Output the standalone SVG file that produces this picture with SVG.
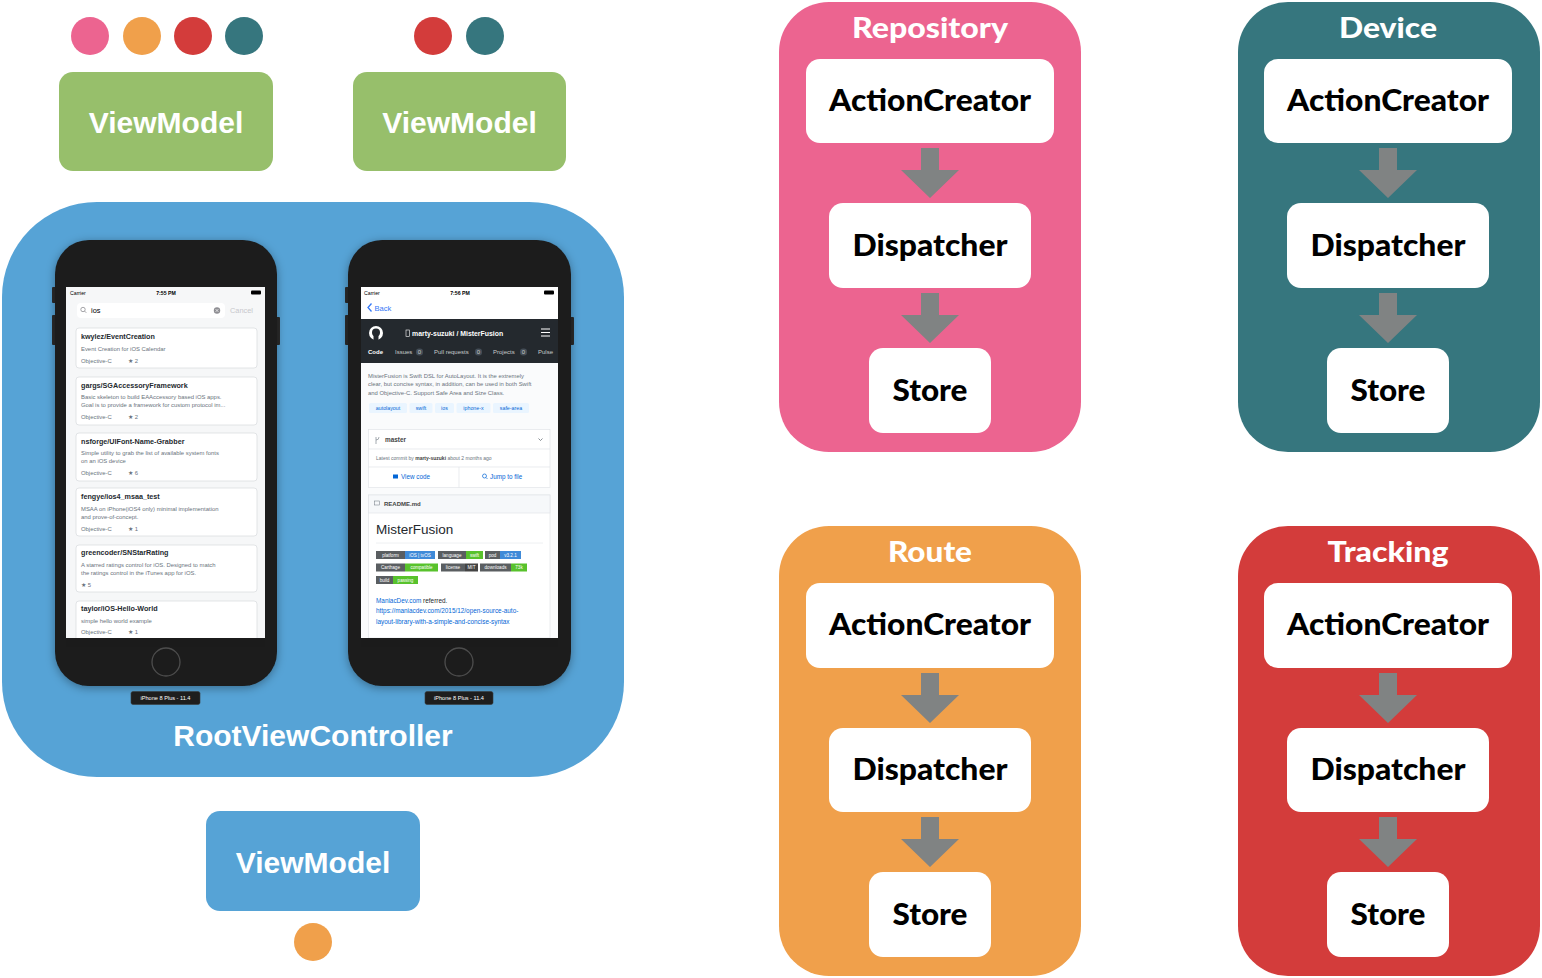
<svg xmlns="http://www.w3.org/2000/svg" width="1542" height="978" viewBox="0 0 1542 978">
<style>
.vm{font-family:"Liberation Sans",Arial,sans-serif;font-weight:bold;font-size:30px;fill:#fff;text-anchor:middle}
.ttl{font-family:Lato,"Open Sans",sans-serif;font-weight:900;font-size:29px;fill:#fff;text-anchor:middle}
.lbl{font-family:Lato,"Open Sans",sans-serif;font-weight:900;font-size:30px;fill:#000;text-anchor:middle}
.wb{fill:#fff}
.arr{fill:#808383}
.ph{fill:#1b1b1b}
.btn{fill:#2a2a2a}
.s{font-family:"Liberation Sans",Arial,sans-serif}
.ct{font-family:"Liberation Sans",Arial,sans-serif;font-size:7.2px;font-weight:bold;fill:#24292e}
.cd{font-family:"Liberation Sans",Arial,sans-serif;font-size:5.9px;fill:#6a737d}
.card{fill:#fff;stroke:#d7dadd;stroke-width:0.7}
.st{font-family:"Liberation Sans",Arial,sans-serif;font-size:5.2px;fill:#000}
.tab{font-family:"Liberation Sans",Arial,sans-serif;font-size:6px;fill:#c8c9ca}
.bd{fill:#5a5e61}
.bt{font-family:"Liberation Sans",Arial,sans-serif;font-size:4.6px;fill:#fff;text-anchor:middle}
.lk{font-family:"Liberation Sans",Arial,sans-serif;font-size:6.4px;fill:#0366d6}
.tg{fill:#eaf5ff}
.tgt{font-family:"Liberation Sans",Arial,sans-serif;font-size:5.3px;fill:#0366d6;text-anchor:middle}
.plbl{font-family:"Liberation Sans",Arial,sans-serif;font-size:5.6px;fill:#fff;text-anchor:middle}
</style>
<defs>
<path id="arrow" d="M-9,0 H9 V22 H29 L0,50 L-29,22 H-9 Z"/>
<filter id="sh" x="-20%" y="-20%" width="140%" height="140%">
<feDropShadow dx="0" dy="2" stdDeviation="5" flood-color="#000" flood-opacity="0.35"/>
</filter>
</defs>
<rect width="1542" height="978" fill="#fff"/>

<g id="dots-top-left">
<circle cx="90" cy="36" r="19" fill="#ec6490"/>
<circle cx="142" cy="36" r="19" fill="#f0a04b"/>
<circle cx="193" cy="36" r="19" fill="#d33c3b"/>
<circle cx="244" cy="36" r="19" fill="#36767e"/>
</g>
<g id="dots-top-right">
<circle cx="433" cy="36" r="19" fill="#d33c3b"/>
<circle cx="485" cy="36" r="19" fill="#36767e"/>
</g>

<g id="viewmodel-1">
<rect x="59" y="72" width="214" height="99" rx="14" fill="#97bf6b"/>
<text class="vm" x="166" y="133">ViewModel</text>
</g>
<g id="viewmodel-2">
<rect x="353" y="72" width="213" height="99" rx="14" fill="#97bf6b"/>
<text class="vm" x="459.5" y="133">ViewModel</text>
</g>

<g id="root-view-controller">
<rect x="2" y="202" width="622" height="575" rx="95" fill="#56a3d6"/>
<text class="vm" x="313" y="746">RootViewController</text>

<g id="phone-1">
<rect x="52" y="287" width="4" height="16" rx="1" class="btn"/>
<rect x="52" y="315" width="4" height="30" rx="1" class="btn"/>
<rect x="276" y="317" width="4" height="28" rx="1" class="btn"/>
<rect x="55" y="240" width="222" height="446" rx="34" class="ph" filter="url(#sh)"/>
<rect x="66" y="287" width="199" height="351" fill="#f6f7f8"/>
<text class="st" x="70" y="294.5">Carrier</text>
<text class="st" x="166" y="294.5" text-anchor="middle" font-weight="bold">7:55 PM</text>
<rect x="251" y="290.5" width="10" height="4" rx="1" fill="#000"/>
<rect x="77" y="303" width="148" height="15" rx="4" fill="#fff"/>
<circle cx="83" cy="309.5" r="2.2" fill="none" stroke="#8e8e93" stroke-width="0.8"/>
<line x1="84.6" y1="311.1" x2="86.3" y2="312.8" stroke="#8e8e93" stroke-width="0.8"/>
<text class="s" x="91" y="313" font-size="7.4" fill="#000">ios</text>
<circle cx="217" cy="310.5" r="3.2" fill="#8e8e93"/>
<path d="M215.6,309.1 L218.4,311.9 M218.4,309.1 L215.6,311.9" stroke="#fff" stroke-width="0.7"/>
<text class="s" x="230" y="313" font-size="7.4" fill="#c7c7cc">Cancel</text>

<rect class="card" x="76" y="328" width="181" height="40" rx="3"/>
<text class="ct" x="81" y="339">kwylez/EventCreation</text>
<text class="cd" x="81" y="351">Event Creation for iOS Calendar</text>
<text class="cd" x="81" y="362.5">Objective-C</text><text class="cd" x="128" y="362.5">★ 2</text>

<rect class="card" x="76" y="377" width="181" height="48" rx="3"/>
<text class="ct" x="81" y="387.5">gargs/SGAccessoryFramework</text>
<text class="cd" x="81" y="399">Basic skeleton to build EAAccessory based iOS apps.</text>
<text class="cd" x="81" y="407">Goal is to provide a framework for custom protocol im...</text>
<text class="cd" x="81" y="419">Objective-C</text><text class="cd" x="128" y="419">★ 2</text>

<rect class="card" x="76" y="433" width="181" height="48" rx="3"/>
<text class="ct" x="81" y="443.5">nsforge/UIFont-Name-Grabber</text>
<text class="cd" x="81" y="455">Simple utility to grab the list of available system fonts</text>
<text class="cd" x="81" y="463">on an iOS device</text>
<text class="cd" x="81" y="475">Objective-C</text><text class="cd" x="128" y="475">★ 6</text>

<rect class="card" x="76" y="488" width="181" height="48" rx="3"/>
<text class="ct" x="81" y="499">fengye/ios4_msaa_test</text>
<text class="cd" x="81" y="510.5">MSAA on iPhone(iOS4 only) minimal implementation</text>
<text class="cd" x="81" y="518.5">and prove-of-concept.</text>
<text class="cd" x="81" y="530.5">Objective-C</text><text class="cd" x="128" y="530.5">★ 1</text>

<rect class="card" x="76" y="545" width="181" height="47" rx="3"/>
<text class="ct" x="81" y="555">greencoder/SNStarRating</text>
<text class="cd" x="81" y="566.5">A starred ratings control for iOS. Designed to match</text>
<text class="cd" x="81" y="574.5">the ratings control in the iTunes app for iOS.</text>
<text class="cd" x="81" y="586.5">★ 5</text>

<rect class="card" x="76" y="601" width="181" height="45" rx="3"/>
<text class="ct" x="81" y="611">taylor/iOS-Hello-World</text>
<text class="cd" x="81" y="622.5">simple hello world example</text>
<text class="cd" x="81" y="634">Objective-C</text><text class="cd" x="128" y="634">★ 1</text>
<rect x="66" y="638" width="199" height="9" class="ph"/>

<circle cx="166" cy="662" r="14" fill="none" stroke="#4d4d4d" stroke-width="1.3"/>
<rect x="131" y="691.5" width="69" height="13" rx="2" fill="#1e1e1e" stroke="#3a3a3a" stroke-width="0.6"/>
<text class="plbl" x="165.5" y="700">iPhone 8 Plus - 11.4</text>
</g>

<g id="phone-2">
<rect x="345" y="287" width="4" height="16" rx="1" class="btn"/>
<rect x="345" y="315" width="4" height="30" rx="1" class="btn"/>
<rect x="570" y="317" width="4" height="28" rx="1" class="btn"/>
<rect x="348" y="240" width="223" height="446" rx="34" class="ph" filter="url(#sh)"/>
<rect x="361" y="287" width="197" height="351" fill="#fafbfc"/>
<rect x="361" y="287" width="197" height="32" fill="#fff"/>
<text class="st" x="364" y="294.5">Carrier</text>
<text class="st" x="460" y="294.5" text-anchor="middle" font-weight="bold">7:56 PM</text>
<rect x="544" y="290.5" width="10" height="4" rx="1" fill="#000"/>
<path d="M371.5,303.5 L368,307.5 L371.5,311.5" fill="none" stroke="#3478f6" stroke-width="1.3"/>
<text class="s" x="374.5" y="310.5" font-size="7.6" fill="#3478f6">Back</text>
<rect x="361" y="319" width="197" height="44" fill="#24292e"/>
<circle cx="376" cy="333" r="7" fill="#fff"/>
<circle cx="376" cy="332.5" r="4" fill="#24292e"/>
<rect x="373.5" y="335" width="5" height="5" fill="#24292e"/>
<rect x="406" y="330" width="3.5" height="6.5" fill="none" stroke="#fff" stroke-width="0.6"/>
<text class="s" x="412" y="336" font-size="6.9" font-weight="bold" fill="#fff">marty-suzuki / MisterFusion</text>
<path d="M541,329 H550 M541,332.5 H550 M541,336 H550" stroke="#fff" stroke-width="1"/>
<text class="tab" x="368" y="354" font-weight="bold" style="fill:#fff">Code</text>
<text class="tab" x="395" y="354">Issues</text>
<rect x="416" y="348.5" width="7" height="7" rx="3" fill="#444d56"/>
<text class="tab" x="419.5" y="354" text-anchor="middle" font-size="4.8">0</text>
<text class="tab" x="434" y="354">Pull requests</text>
<rect x="475" y="348.5" width="7" height="7" rx="3" fill="#444d56"/>
<text class="tab" x="478.5" y="354" text-anchor="middle" font-size="4.8">0</text>
<text class="tab" x="493" y="354">Projects</text>
<rect x="520" y="348.5" width="7" height="7" rx="3" fill="#444d56"/>
<text class="tab" x="523.5" y="354" text-anchor="middle" font-size="4.8">0</text>
<text class="tab" x="538" y="354">Pulse</text>

<text class="cd" x="368" y="377.5" font-size="5.4">MisterFusion is Swift DSL for AutoLayout. It is the extremely</text>
<text class="cd" x="368" y="386" font-size="5.4">clear, but concise syntax, in addition, can be used in both Swift</text>
<text class="cd" x="368" y="394.5" font-size="5.4">and Objective-C. Support Safe Area and Size Class.</text>
<rect class="tg" x="369" y="403" width="38" height="10" rx="1.5"/>
<text class="tgt" x="388" y="409.8">autolayout</text>
<rect class="tg" x="409.5" y="403" width="23" height="10" rx="1.5"/>
<text class="tgt" x="421" y="409.8">swift</text>
<rect class="tg" x="435" y="403" width="19" height="10" rx="1.5"/>
<text class="tgt" x="444.5" y="409.8">ios</text>
<rect class="tg" x="456.5" y="403" width="34" height="10" rx="1.5"/>
<text class="tgt" x="473.5" y="409.8">iphone-x</text>
<rect class="tg" x="493" y="403" width="36" height="10" rx="1.5"/>
<text class="tgt" x="511" y="409.8">safe-area</text>

<rect x="368.5" y="429.5" width="181.5" height="58" fill="#fff" stroke="#e1e4e8" stroke-width="0.7"/>
<line x1="368.5" y1="449" x2="550" y2="449" stroke="#e1e4e8" stroke-width="0.7"/>
<line x1="368.5" y1="467" x2="550" y2="467" stroke="#e1e4e8" stroke-width="0.7"/>
<line x1="459" y1="467" x2="459" y2="487.5" stroke="#e1e4e8" stroke-width="0.7"/>
<path d="M376,437 V444 M376,440 Q379,440 379,437" fill="none" stroke="#6a737d" stroke-width="0.6"/>
<text class="s" x="385" y="442" font-size="6.4" font-weight="bold" fill="#444">master</text>
<path d="M538.5,438.5 L540.5,440.5 L542.5,438.5" fill="none" stroke="#586069" stroke-width="0.7"/>
<text class="s" x="376" y="460" font-size="5" fill="#6a737d">Latest commit by <tspan font-weight="bold" fill="#444">marty-suzuki</tspan> about 2 months ago</text>
<rect x="393" y="474.5" width="5" height="4" fill="#0366d6"/>
<text class="s" x="401" y="479" font-size="6.3" fill="#0366d6">View code</text>
<circle cx="484.5" cy="476" r="2" fill="none" stroke="#0366d6" stroke-width="0.7"/>
<line x1="486" y1="477.5" x2="487.5" y2="479" stroke="#0366d6" stroke-width="0.7"/>
<text class="s" x="490" y="479" font-size="6.3" fill="#0366d6">Jump to file</text>

<rect x="368.5" y="495" width="181.5" height="143" fill="#fff" stroke="#e1e4e8" stroke-width="0.7"/>
<rect x="368.5" y="495" width="181.5" height="18" fill="#f6f8fa" stroke="#e1e4e8" stroke-width="0.7"/>
<rect x="374.5" y="501" width="5" height="4" fill="none" stroke="#6a737d" stroke-width="0.5"/>
<text class="s" x="384" y="506" font-size="6" font-weight="bold" fill="#444">README.md</text>
<text class="s" x="376" y="534" font-size="13.5" fill="#24292e">MisterFusion</text>
<line x1="376" y1="543" x2="543" y2="543" stroke="#eaecef" stroke-width="0.8"/>

<rect class="bd" x="376" y="551" width="29" height="8"/><rect x="405" y="551" width="30" height="8" fill="#3f8ad8"/>
<text class="bt" x="390.5" y="556.6">platform</text><text class="bt" x="420" y="556.6">iOS | tvOS</text>
<rect class="bd" x="438" y="551" width="28" height="8"/><rect x="466" y="551" width="17" height="8" fill="#58c22c"/>
<text class="bt" x="452" y="556.6">language</text><text class="bt" x="474.5" y="556.6">swift</text>
<rect class="bd" x="485" y="551" width="15" height="8"/><rect x="500" y="551" width="21" height="8" fill="#3f8ad8"/>
<text class="bt" x="492.5" y="556.6">pod</text><text class="bt" x="510.5" y="556.6">v3.2.1</text>

<rect class="bd" x="376" y="563.5" width="29" height="8"/><rect x="405" y="563.5" width="33" height="8" fill="#58c22c"/>
<text class="bt" x="390.5" y="569.1">Carthage</text><text class="bt" x="421.5" y="569.1">compatible</text>
<rect class="bd" x="441" y="563.5" width="24" height="8"/><rect x="465" y="563.5" width="13" height="8" fill="#444"/>
<text class="bt" x="453" y="569.1">license</text><text class="bt" x="471.5" y="569.1">MIT</text>
<rect class="bd" x="480" y="563.5" width="31" height="8"/><rect x="511" y="563.5" width="16" height="8" fill="#58c22c"/>
<text class="bt" x="495.5" y="569.1">downloads</text><text class="bt" x="519" y="569.1">73k</text>

<rect class="bd" x="376" y="576" width="17" height="8"/><rect x="393" y="576" width="25" height="8" fill="#58c22c"/>
<text class="bt" x="384.5" y="581.6">build</text><text class="bt" x="405.5" y="581.6">passing</text>

<text class="lk" x="376" y="602.5">ManiacDev.com<tspan fill="#24292e"> referred.</tspan></text>
<text class="lk" x="376" y="613">https://maniacdev.com/2015/12/open-source-auto-</text>
<text class="lk" x="376" y="623.5">layout-library-with-a-simple-and-concise-syntax</text>
<rect x="361" y="638" width="197" height="9" class="ph"/>

<circle cx="459" cy="662" r="14" fill="none" stroke="#4d4d4d" stroke-width="1.3"/>
<rect x="425" y="691.5" width="68" height="13" rx="2" fill="#1e1e1e" stroke="#3a3a3a" stroke-width="0.6"/>
<text class="plbl" x="459" y="700">iPhone 8 Plus - 11.4</text>
</g>
</g>

<g id="viewmodel-3">
<rect x="206" y="811" width="214" height="100" rx="14" fill="#56a3d6"/>
<text class="vm" x="313" y="873">ViewModel</text>
</g>
<g id="dot-bottom">
<circle cx="313" cy="942" r="19" fill="#f0a04b"/>
</g>

<g id="repository">
<rect x="779" y="2" width="302" height="450" rx="50" fill="#ec6490"/>
<text class="ttl" x="930" y="38" textLength="156" lengthAdjust="spacingAndGlyphs">Repository</text>
<g id="repository-actioncreator"><rect class="wb" x="806" y="59" width="248" height="84" rx="14"/><text class="lbl" x="930" y="111" textLength="202" lengthAdjust="spacingAndGlyphs">ActionCreator</text></g>
<g id="repository-dispatcher"><rect class="wb" x="829" y="203" width="202" height="85" rx="14"/><text class="lbl" x="930" y="256" textLength="155" lengthAdjust="spacingAndGlyphs">Dispatcher</text></g>
<g id="repository-store"><rect class="wb" x="869" y="348" width="122" height="85" rx="14"/><text class="lbl" x="930" y="401" textLength="75" lengthAdjust="spacingAndGlyphs">Store</text></g>
</g>

<g id="device">
<rect x="1238" y="2" width="302" height="450" rx="50" fill="#36767e"/>
<text class="ttl" x="1388" y="38" textLength="98" lengthAdjust="spacingAndGlyphs">Device</text>
<g id="device-actioncreator"><rect class="wb" x="1264" y="59" width="248" height="84" rx="14"/><text class="lbl" x="1388" y="111" textLength="202" lengthAdjust="spacingAndGlyphs">ActionCreator</text></g>
<g id="device-dispatcher"><rect class="wb" x="1287" y="203" width="202" height="85" rx="14"/><text class="lbl" x="1388" y="256" textLength="155" lengthAdjust="spacingAndGlyphs">Dispatcher</text></g>
<g id="device-store"><rect class="wb" x="1327" y="348" width="122" height="85" rx="14"/><text class="lbl" x="1388" y="401" textLength="75" lengthAdjust="spacingAndGlyphs">Store</text></g>
</g>

<g id="route">
<rect x="779" y="526" width="302" height="450" rx="50" fill="#f0a04b"/>
<text class="ttl" x="930" y="562" textLength="84" lengthAdjust="spacingAndGlyphs">Route</text>
<g id="route-actioncreator"><rect class="wb" x="806" y="583" width="248" height="85" rx="14"/><text class="lbl" x="930" y="635" textLength="202" lengthAdjust="spacingAndGlyphs">ActionCreator</text></g>
<g id="route-dispatcher"><rect class="wb" x="829" y="728" width="202" height="84" rx="14"/><text class="lbl" x="930" y="780" textLength="155" lengthAdjust="spacingAndGlyphs">Dispatcher</text></g>
<g id="route-store"><rect class="wb" x="869" y="872" width="122" height="85" rx="14"/><text class="lbl" x="930" y="925" textLength="75" lengthAdjust="spacingAndGlyphs">Store</text></g>
</g>

<g id="tracking">
<rect x="1238" y="526" width="302" height="450" rx="50" fill="#d33c3b"/>
<text class="ttl" x="1388" y="562" textLength="121" lengthAdjust="spacingAndGlyphs">Tracking</text>
<g id="tracking-actioncreator"><rect class="wb" x="1264" y="583" width="248" height="85" rx="14"/><text class="lbl" x="1388" y="635" textLength="202" lengthAdjust="spacingAndGlyphs">ActionCreator</text></g>
<g id="tracking-dispatcher"><rect class="wb" x="1287" y="728" width="202" height="84" rx="14"/><text class="lbl" x="1388" y="780" textLength="155" lengthAdjust="spacingAndGlyphs">Dispatcher</text></g>
<g id="tracking-store"><rect class="wb" x="1327" y="872" width="122" height="85" rx="14"/><text class="lbl" x="1388" y="925" textLength="75" lengthAdjust="spacingAndGlyphs">Store</text></g>
</g>

<g id="connectors" class="arr">
<use href="#arrow" x="930" y="148"/>
<use href="#arrow" x="930" y="293"/>
<use href="#arrow" x="1388" y="148"/>
<use href="#arrow" x="1388" y="293"/>
<use href="#arrow" x="930" y="673"/>
<use href="#arrow" x="930" y="817"/>
<use href="#arrow" x="1388" y="673"/>
<use href="#arrow" x="1388" y="817"/>
</g>
</svg>
